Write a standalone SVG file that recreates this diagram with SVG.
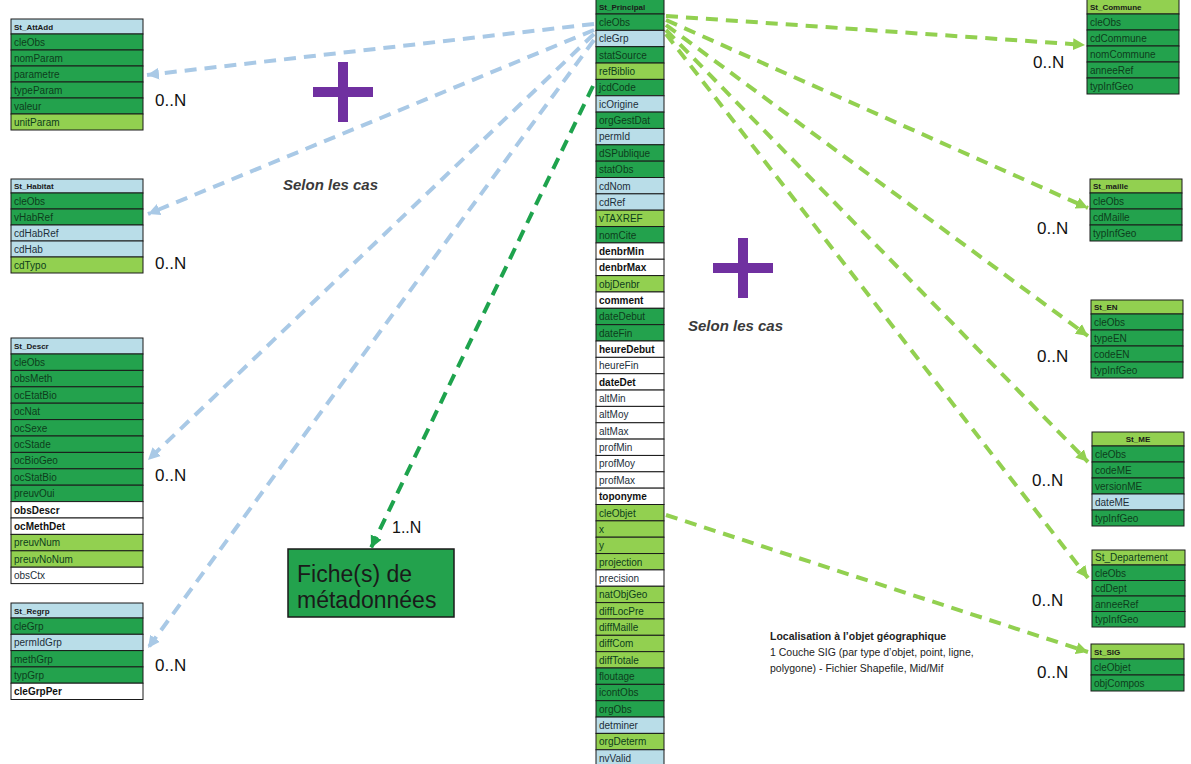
<svg xmlns="http://www.w3.org/2000/svg" width="1191" height="764" viewBox="0 0 1191 764">
<style>
.dg{fill:#23a24d;stroke:#1a1a1a;stroke-width:1}
.lg{fill:#92d050;stroke:#1a1a1a;stroke-width:1}
.lb{fill:#b9dde8;stroke:#1a1a1a;stroke-width:1}
.wh{fill:#ffffff;stroke:#1a1a1a;stroke-width:1}
text{font-family:"Liberation Sans",Arial,sans-serif}
.h{font-size:8px;font-weight:bold;fill:#1a1a1a}
.t{font-size:10px;fill:#0d3d1c}
.tw{font-size:10px;fill:#111;font-weight:bold}
.tb{font-size:10px;fill:#1d2f3a}
.card{font-size:17px;fill:#111}
.sel{font-size:15px;font-style:italic;font-weight:bold;fill:#3a3a3a}
.blue{fill:none;stroke:#a9c9e6;stroke-width:4;stroke-dasharray:12 8}
.green{fill:none;stroke:#92d050;stroke-width:4;stroke-dasharray:12 8}
.dgreen{fill:none;stroke:#1ea34d;stroke-width:4;stroke-dasharray:12 8}
.plus{fill:#7030a0}
</style>
<defs>
<marker id="ab" markerUnits="userSpaceOnUse" markerWidth="14" markerHeight="14" refX="12" refY="7" orient="auto"><path d="M0,1 L12,7 L0,13 Z" fill="#a9c9e6"/></marker>
<marker id="ag" markerUnits="userSpaceOnUse" markerWidth="14" markerHeight="14" refX="12" refY="7" orient="auto"><path d="M0,1 L12,7 L0,13 Z" fill="#92d050"/></marker>
<marker id="ad" markerUnits="userSpaceOnUse" markerWidth="14" markerHeight="14" refX="12" refY="7" orient="auto"><path d="M0,1 L12,7 L0,13 Z" fill="#1ea34d"/></marker>
</defs>
<rect width="1191" height="764" fill="#ffffff"/>

<g id="connectors">
<line class="blue" x1="594" y1="24" x2="147" y2="75" marker-end="url(#ab)"/>
<line class="blue" x1="594" y1="30" x2="148" y2="214" marker-end="url(#ab)"/>
<line class="blue" x1="594" y1="34" x2="148" y2="460" marker-end="url(#ab)"/>
<line class="blue" x1="594" y1="40" x2="148" y2="648" marker-end="url(#ab)"/>
<line class="green" x1="666" y1="16" x2="1085" y2="45" marker-end="url(#ag)"/>
<line class="green" x1="666" y1="20" x2="1088" y2="208" marker-end="url(#ag)"/>
<line class="green" x1="666" y1="25" x2="1088" y2="336" marker-end="url(#ag)"/>
<line class="green" x1="666" y1="30" x2="1088" y2="462" marker-end="url(#ag)"/>
<line class="green" x1="666" y1="34" x2="1088" y2="578" marker-end="url(#ag)"/>
<line class="green" x1="666" y1="515" x2="1088" y2="652" marker-end="url(#ag)"/>
<line class="dgreen" x1="593" y1="86" x2="371" y2="548" marker-end="url(#ad)"/>
</g>

<g id="labels">
<text class="card" x="155" y="106">0..N</text>
<text class="card" x="155" y="269">0..N</text>
<text class="card" x="155" y="481">0..N</text>
<text class="card" x="155" y="671">0..N</text>
<text class="card" x="1033" y="68">0..N</text>
<text class="card" x="1037" y="234">0..N</text>
<text class="card" x="1037" y="362">0..N</text>
<text class="card" x="1032" y="486">0..N</text>
<text class="card" x="1032" y="606">0..N</text>
<text class="card" x="1037" y="678">0..N</text>
<text class="card" x="392" y="533" style="font-size:16px">1..N</text>
<text class="sel" x="283" y="190">Selon les cas</text>
<text class="sel" x="688" y="331">Selon les cas</text>
<rect class="plus" x="313" y="87" width="60" height="10"/>
<rect class="plus" x="338" y="62" width="10" height="60"/>
<rect class="plus" x="713" y="263" width="60" height="10"/>
<rect class="plus" x="738" y="238" width="10" height="60"/>
<text x="770" y="640" style="font-size:10.5px;font-weight:bold;fill:#222">Localisation à l’objet géographique</text>
<text x="770" y="656" style="font-size:10.5px;fill:#222">1 Couche SIG (par type d’objet, point, ligne,</text>
<text x="770" y="672" style="font-size:10.5px;fill:#222">polygone) - Fichier Shapefile, Mid/Mif</text>
</g>

<g id="fiche">
<rect x="288" y="549" width="166" height="68" fill="#23a24d" stroke="#1a1a1a" stroke-width="1.5"/>
<text x="297" y="582" style="font-size:23px;fill:#1a1a1a">Fiche(s) de</text>
<text x="297" y="608" style="font-size:23px;fill:#1a1a1a">métadonnées</text>
</g>

<g id="St_AttAdd">
<rect class="lb" x="11" y="19" width="132" height="15"/><text class="h" x="14" y="30">St_AttAdd</text>
<rect class="dg" x="11" y="34" width="132" height="16"/><text class="t" x="14" y="46">cleObs</text>
<rect class="dg" x="11" y="50" width="132" height="16"/><text class="t" x="14" y="62">nomParam</text>
<rect class="dg" x="11" y="66" width="132" height="16"/><text class="t" x="14" y="78">parametre</text>
<rect class="dg" x="11" y="82" width="132" height="16"/><text class="t" x="14" y="94">typeParam</text>
<rect class="dg" x="11" y="98" width="132" height="16"/><text class="t" x="14" y="110">valeur</text>
<rect class="lg" x="11" y="114" width="132" height="16"/><text class="t" x="14" y="126">unitParam</text>
</g>

<g id="St_Habitat">
<rect class="lb" x="11" y="179" width="132" height="14"/><text class="h" x="14" y="189">St_Habitat</text>
<rect class="dg" x="11" y="193" width="132" height="16"/><text class="t" x="14" y="205">cleObs</text>
<rect class="dg" x="11" y="209" width="132" height="16"/><text class="t" x="14" y="221">vHabRef</text>
<rect class="lb" x="11" y="225" width="132" height="16"/><text class="tb" x="14" y="237">cdHabRef</text>
<rect class="lb" x="11" y="241" width="132" height="16"/><text class="tb" x="14" y="253">cdHab</text>
<rect class="lg" x="11" y="257" width="132" height="16"/><text class="t" x="14" y="269">cdTypo</text>
</g>

<g id="St_Descr">
<rect class="lb" x="11" y="338" width="132" height="16"/><text class="h" x="14" y="349">St_Descr</text>
<rect class="dg" x="11" y="354" width="132" height="16.4"/><text class="t" x="14" y="366">cleObs</text>
<rect class="dg" x="11" y="370.4" width="132" height="16.4"/><text class="t" x="14" y="382.4">obsMeth</text>
<rect class="dg" x="11" y="386.8" width="132" height="16.4"/><text class="t" x="14" y="398.8">ocEtatBio</text>
<rect class="dg" x="11" y="403.2" width="132" height="16.4"/><text class="t" x="14" y="415.2">ocNat</text>
<rect class="dg" x="11" y="419.6" width="132" height="16.4"/><text class="t" x="14" y="431.6">ocSexe</text>
<rect class="dg" x="11" y="436" width="132" height="16.4"/><text class="t" x="14" y="448">ocStade</text>
<rect class="dg" x="11" y="452.4" width="132" height="16.4"/><text class="t" x="14" y="464.4">ocBioGeo</text>
<rect class="dg" x="11" y="468.8" width="132" height="16.4"/><text class="t" x="14" y="480.8">ocStatBio</text>
<rect class="dg" x="11" y="485.2" width="132" height="16.4"/><text class="t" x="14" y="497.2">preuvOui</text>
<rect class="wh" x="11" y="501.6" width="132" height="16.4"/><text class="tw" x="14" y="513.6">obsDescr</text>
<rect class="wh" x="11" y="518" width="132" height="16.4"/><text class="tw" x="14" y="530">ocMethDet</text>
<rect class="lg" x="11" y="534.4" width="132" height="16.4"/><text class="t" x="14" y="546.4">preuvNum</text>
<rect class="lg" x="11" y="550.8" width="132" height="16.4"/><text class="t" x="14" y="562.8">preuvNoNum</text>
<rect class="wh" x="11" y="567.2" width="132" height="16.4"/><text class="tb" x="14" y="579.2">obsCtx</text>
</g>

<g id="St_Regrp">
<rect class="lb" x="11" y="603" width="132" height="15"/><text class="h" x="14" y="614">St_Regrp</text>
<rect class="dg" x="11" y="618" width="132" height="16.3"/><text class="t" x="14" y="630">cleGrp</text>
<rect class="lb" x="11" y="634.3" width="132" height="16.3"/><text class="tb" x="14" y="646.3">permIdGrp</text>
<rect class="dg" x="11" y="650.6" width="132" height="16.3"/><text class="t" x="14" y="662.6">methGrp</text>
<rect class="dg" x="11" y="666.9" width="132" height="16.3"/><text class="t" x="14" y="678.9">typGrp</text>
<rect class="wh" x="11" y="683.2" width="132" height="16.3"/><text class="tw" x="14" y="695.2">cleGrpPer</text>
</g>

<g id="St_Principal">
<rect class="dg" x="596" y="-2" width="68" height="16"/><text class="h" x="599" y="10">St_Principal</text>
<rect class="dg" x="596" y="14" width="68" height="16.35"/><text class="t" x="599" y="26">cleObs</text>
<rect class="lb" x="596" y="30.35" width="68" height="16.35"/><text class="tb" x="599" y="42.35">cleGrp</text>
<rect class="dg" x="596" y="46.7" width="68" height="16.35"/><text class="t" x="599" y="58.7">statSource</text>
<rect class="lg" x="596" y="63.05" width="68" height="16.35"/><text class="t" x="599" y="75.05">refBiblio</text>
<rect class="dg" x="596" y="79.4" width="68" height="16.35"/><text class="t" x="599" y="91.4">jcdCode</text>
<rect class="lb" x="596" y="95.75" width="68" height="16.35"/><text class="tb" x="599" y="107.75">icOrigine</text>
<rect class="dg" x="596" y="112.1" width="68" height="16.35"/><text class="t" x="599" y="124.1">orgGestDat</text>
<rect class="lb" x="596" y="128.45" width="68" height="16.35"/><text class="tb" x="599" y="140.45">permId</text>
<rect class="dg" x="596" y="144.8" width="68" height="16.35"/><text class="t" x="599" y="156.8">dSPublique</text>
<rect class="dg" x="596" y="161.15" width="68" height="16.35"/><text class="t" x="599" y="173.15">statObs</text>
<rect class="lb" x="596" y="177.5" width="68" height="16.35"/><text class="tb" x="599" y="189.5">cdNom</text>
<rect class="lb" x="596" y="193.85" width="68" height="16.35"/><text class="tb" x="599" y="205.85">cdRef</text>
<rect class="lg" x="596" y="210.2" width="68" height="16.35"/><text class="t" x="599" y="222.2">vTAXREF</text>
<rect class="dg" x="596" y="226.55" width="68" height="16.35"/><text class="t" x="599" y="238.55">nomCite</text>
<rect class="wh" x="596" y="242.9" width="68" height="16.35"/><text class="tw" x="599" y="254.9">denbrMin</text>
<rect class="wh" x="596" y="259.25" width="68" height="16.35"/><text class="tw" x="599" y="271.25">denbrMax</text>
<rect class="lg" x="596" y="275.6" width="68" height="16.35"/><text class="t" x="599" y="287.6">objDenbr</text>
<rect class="wh" x="596" y="291.95" width="68" height="16.35"/><text class="tw" x="599" y="303.95">comment</text>
<rect class="dg" x="596" y="308.3" width="68" height="16.35"/><text class="t" x="599" y="320.3">dateDebut</text>
<rect class="dg" x="596" y="324.65" width="68" height="16.35"/><text class="t" x="599" y="336.65">dateFin</text>
<rect class="wh" x="596" y="341" width="68" height="16.35"/><text class="tw" x="599" y="353">heureDebut</text>
<rect class="wh" x="596" y="357.35" width="68" height="16.35"/><text class="tb" x="599" y="369.35">heureFin</text>
<rect class="wh" x="596" y="373.7" width="68" height="16.35"/><text class="tw" x="599" y="385.7">dateDet</text>
<rect class="wh" x="596" y="390.05" width="68" height="16.35"/><text class="tb" x="599" y="402.05">altMin</text>
<rect class="wh" x="596" y="406.4" width="68" height="16.35"/><text class="tb" x="599" y="418.4">altMoy</text>
<rect class="wh" x="596" y="422.75" width="68" height="16.35"/><text class="tb" x="599" y="434.75">altMax</text>
<rect class="wh" x="596" y="439.1" width="68" height="16.35"/><text class="tb" x="599" y="451.1">profMin</text>
<rect class="wh" x="596" y="455.45" width="68" height="16.35"/><text class="tb" x="599" y="467.45">profMoy</text>
<rect class="wh" x="596" y="471.8" width="68" height="16.35"/><text class="tb" x="599" y="483.8">profMax</text>
<rect class="wh" x="596" y="488.15" width="68" height="16.35"/><text class="tw" x="599" y="500.15">toponyme</text>
<rect class="lg" x="596" y="504.5" width="68" height="16.35"/><text class="t" x="599" y="516.5">cleObjet</text>
<rect class="lg" x="596" y="520.85" width="68" height="16.35"/><text class="t" x="599" y="532.85">x</text>
<rect class="lg" x="596" y="537.2" width="68" height="16.35"/><text class="t" x="599" y="549.2">y</text>
<rect class="lg" x="596" y="553.55" width="68" height="16.35"/><text class="t" x="599" y="565.55">projection</text>
<rect class="wh" x="596" y="569.9" width="68" height="16.35"/><text class="tb" x="599" y="581.9">precision</text>
<rect class="lg" x="596" y="586.25" width="68" height="16.35"/><text class="t" x="599" y="598.25">natObjGeo</text>
<rect class="lg" x="596" y="602.6" width="68" height="16.35"/><text class="t" x="599" y="614.6">diffLocPre</text>
<rect class="lg" x="596" y="618.95" width="68" height="16.35"/><text class="t" x="599" y="630.95">diffMaille</text>
<rect class="lg" x="596" y="635.3" width="68" height="16.35"/><text class="t" x="599" y="647.3">diffCom</text>
<rect class="lg" x="596" y="651.65" width="68" height="16.35"/><text class="t" x="599" y="663.65">diffTotale</text>
<rect class="dg" x="596" y="668" width="68" height="16.35"/><text class="t" x="599" y="680">floutage</text>
<rect class="dg" x="596" y="684.35" width="68" height="16.35"/><text class="t" x="599" y="696.35">icontObs</text>
<rect class="dg" x="596" y="700.7" width="68" height="16.35"/><text class="t" x="599" y="712.7">orgObs</text>
<rect class="lb" x="596" y="717.05" width="68" height="16.35"/><text class="tb" x="599" y="729.05">detminer</text>
<rect class="lg" x="596" y="733.4" width="68" height="16.35"/><text class="t" x="599" y="745.4">orgDeterm</text>
<rect class="lb" x="596" y="749.75" width="68" height="16.35"/><text class="tb" x="599" y="761.75">nvValid</text>
</g>

<g id="St_Commune">
<rect class="lg" x="1087" y="-2" width="92" height="16"/><text class="h" x="1090" y="10">St_Commune</text>
<rect class="dg" x="1087" y="14" width="92" height="16"/><text class="t" x="1090" y="26">cleObs</text>
<rect class="dg" x="1087" y="30" width="92" height="16"/><text class="t" x="1090" y="42">cdCommune</text>
<rect class="dg" x="1087" y="46" width="92" height="16"/><text class="t" x="1090" y="58">nomCommune</text>
<rect class="dg" x="1087" y="62" width="92" height="16"/><text class="t" x="1090" y="74">anneeRef</text>
<rect class="dg" x="1087" y="78" width="92" height="16"/><text class="t" x="1090" y="90">typInfGeo</text>
</g>

<g id="St_maille">
<rect class="lg" x="1090" y="179" width="92" height="14"/><text class="h" x="1093" y="189">St_maille</text>
<rect class="dg" x="1090" y="193" width="92" height="16"/><text class="t" x="1093" y="205">cleObs</text>
<rect class="dg" x="1090" y="209" width="92" height="16"/><text class="t" x="1093" y="221">cdMaille</text>
<rect class="dg" x="1090" y="225" width="92" height="16"/><text class="t" x="1093" y="237">typInfGeo</text>
</g>

<g id="St_EN">
<rect class="lg" x="1091" y="300" width="92" height="14"/><text class="h" x="1094" y="310">St_EN</text>
<rect class="dg" x="1091" y="314" width="92" height="16"/><text class="t" x="1094" y="326">cleObs</text>
<rect class="dg" x="1091" y="330" width="92" height="16"/><text class="t" x="1094" y="342">typeEN</text>
<rect class="dg" x="1091" y="346" width="92" height="16"/><text class="t" x="1094" y="358">codeEN</text>
<rect class="dg" x="1091" y="362" width="92" height="16"/><text class="t" x="1094" y="374">typInfGeo</text>
</g>

<g id="St_ME">
<rect class="lg" x="1092" y="432" width="92" height="14"/><text class="h" x="1138" y="442" text-anchor="middle">St_ME</text>
<rect class="dg" x="1092" y="446" width="92" height="16"/><text class="t" x="1095" y="458">cleObs</text>
<rect class="dg" x="1092" y="462" width="92" height="16"/><text class="t" x="1095" y="474">codeME</text>
<rect class="dg" x="1092" y="478" width="92" height="16"/><text class="t" x="1095" y="490">versionME</text>
<rect class="lb" x="1092" y="494" width="92" height="16"/><text class="tb" x="1095" y="506">dateME</text>
<rect class="dg" x="1092" y="510" width="92" height="16"/><text class="t" x="1095" y="522">typInfGeo</text>
</g>

<g id="St_Departement">
<rect class="lg" x="1092" y="550" width="93" height="15"/><text class="t" x="1095" y="561">St_Departement</text>
<rect class="dg" x="1092" y="565" width="93" height="15.5"/><text class="t" x="1095" y="576.5">cleObs</text>
<rect class="dg" x="1092" y="580.5" width="93" height="15.5"/><text class="t" x="1095" y="592">cdDept</text>
<rect class="dg" x="1092" y="596" width="93" height="15.5"/><text class="t" x="1095" y="607.5">anneeRef</text>
<rect class="dg" x="1092" y="611.5" width="93" height="15.5"/><text class="t" x="1095" y="623">typInfGeo</text>
</g>

<g id="St_SIG">
<rect class="lg" x="1091" y="644" width="93" height="15"/><text class="h" x="1094" y="655">St_SIG</text>
<rect class="dg" x="1091" y="659" width="93" height="16"/><text class="t" x="1094" y="671">cleObjet</text>
<rect class="dg" x="1091" y="675" width="93" height="16"/><text class="t" x="1094" y="687">objCompos</text>
</g>
</svg>
